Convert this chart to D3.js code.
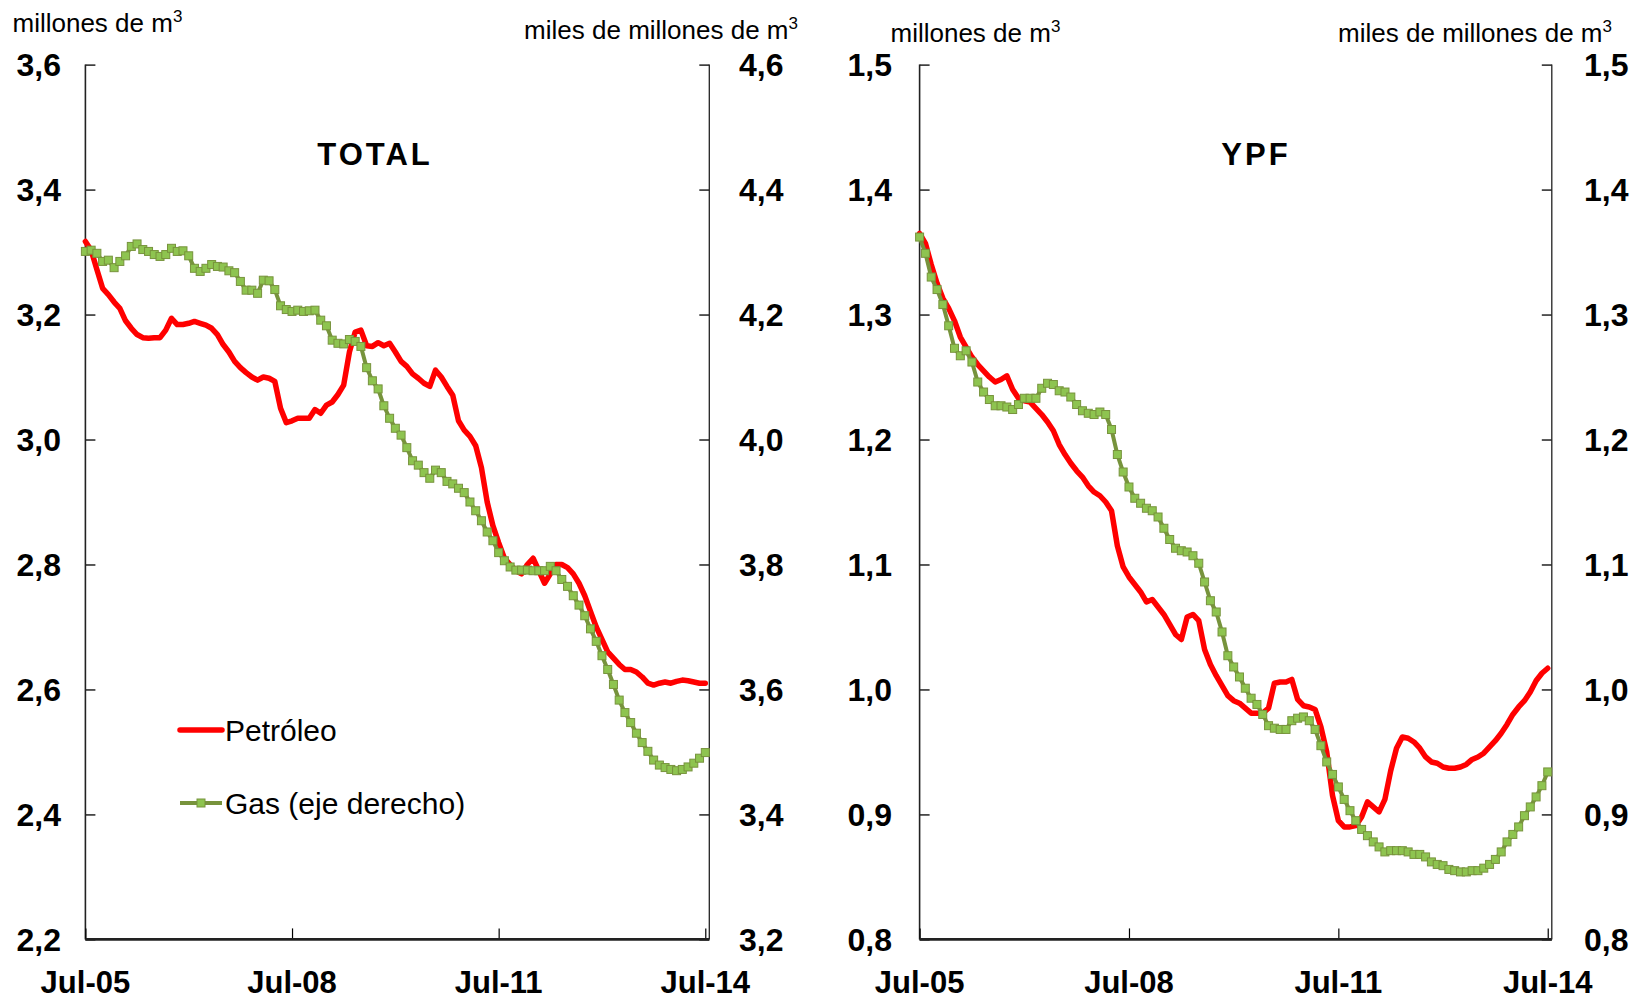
<!DOCTYPE html>
<html>
<head>
<meta charset="utf-8">
<script src="https://cdn.jsdelivr.net/npm/d3@7/dist/d3.min.js"></script>
<style>
    body { margin: 0; background: #fff; }
    svg text { font-family: "Liberation Sans", Arial, sans-serif; fill: #000; }
</style>
</head>
<body>
<svg id="chart" width="1633" height="1001"></svg>
<script>

/* datos: un valor por mes, jul-05 .. jul-14 (109 meses) */
const xTickLabels = ['Jul-05', 'Jul-08', 'Jul-11', 'Jul-14'];
const xTickMonths = [0, 36, 72, 108];

const totalPetroleo = [
    3.317, 3.303, 3.272, 3.242, 3.232, 3.220, 3.210, 3.190, 3.178, 3.168, 3.163, 3.162,
    3.163, 3.163, 3.175, 3.194, 3.184, 3.184, 3.186, 3.189, 3.186, 3.183, 3.178, 3.168,
    3.152, 3.140, 3.125, 3.115, 3.107, 3.100, 3.095, 3.100, 3.098, 3.093, 3.050, 3.027,
    3.030, 3.034, 3.034, 3.034, 3.048, 3.042, 3.055, 3.060, 3.072, 3.087, 3.140, 3.172,
    3.175, 3.150, 3.149, 3.155, 3.150, 3.154, 3.140, 3.125, 3.117, 3.105, 3.098, 3.090,
    3.085, 3.111, 3.100, 3.085, 3.071, 3.030, 3.015, 3.005, 2.990, 2.955, 2.900, 2.862,
    2.835, 2.810, 2.800, 2.790, 2.785, 2.800, 2.810, 2.790, 2.770, 2.785, 2.800, 2.800,
    2.795, 2.785, 2.770, 2.750, 2.725, 2.700, 2.680, 2.660, 2.650, 2.640, 2.632, 2.632,
    2.628, 2.620, 2.610, 2.607, 2.610, 2.612, 2.610, 2.613, 2.615, 2.614, 2.612, 2.610,
    2.610
];
const totalGas = [
    4.301, 4.303, 4.298, 4.285, 4.287, 4.275, 4.285, 4.294, 4.309, 4.313, 4.304, 4.301,
    4.296, 4.293, 4.296, 4.306, 4.301, 4.302, 4.294, 4.274, 4.269, 4.274, 4.280, 4.277,
    4.276, 4.270, 4.267, 4.253, 4.239, 4.239, 4.234, 4.255, 4.254, 4.240, 4.214, 4.208,
    4.205, 4.207, 4.205, 4.206, 4.207, 4.191, 4.182, 4.159, 4.154, 4.153, 4.160, 4.157,
    4.149, 4.115, 4.094, 4.081, 4.054, 4.034, 4.018, 4.007, 3.987, 3.966, 3.959, 3.947,
    3.938, 3.951, 3.947, 3.933, 3.929, 3.922, 3.915, 3.900, 3.886, 3.870, 3.852, 3.838,
    3.819, 3.806, 3.796, 3.791, 3.791, 3.791, 3.790, 3.790, 3.790, 3.797, 3.790, 3.776,
    3.765, 3.750, 3.735, 3.718, 3.697, 3.677, 3.654, 3.632, 3.608, 3.583, 3.563, 3.547,
    3.530, 3.515, 3.501, 3.487, 3.479, 3.475, 3.472, 3.470, 3.472, 3.476, 3.482, 3.490,
    3.499
];
const ypfPetroleo = [
    1.365, 1.357, 1.340, 1.325, 1.313, 1.305, 1.295, 1.282, 1.274, 1.266, 1.260, 1.255,
    1.250, 1.246, 1.248, 1.251, 1.240, 1.233, 1.231, 1.230, 1.225, 1.220, 1.214, 1.207,
    1.196, 1.188, 1.181, 1.175, 1.170, 1.163, 1.158, 1.155, 1.150, 1.143, 1.115, 1.098,
    1.090, 1.084, 1.078, 1.070, 1.072, 1.066, 1.060, 1.052, 1.044, 1.040, 1.058, 1.060,
    1.055, 1.032, 1.020, 1.011, 1.003, 0.995, 0.991, 0.989, 0.985, 0.981, 0.981, 0.981,
    0.985, 1.005, 1.006, 1.006, 1.008, 0.992, 0.987, 0.986, 0.984, 0.970, 0.950, 0.915,
    0.895, 0.890, 0.890, 0.891, 0.898, 0.910, 0.906, 0.902, 0.912, 0.935, 0.953, 0.962,
    0.961, 0.958, 0.953, 0.946, 0.942, 0.941, 0.938, 0.937, 0.937, 0.938, 0.940, 0.944,
    0.946, 0.949, 0.954, 0.959, 0.965, 0.972, 0.980, 0.986, 0.991, 0.998, 1.007, 1.013,
    1.017
];
const ypfGas = [
    1.362, 1.349, 1.330, 1.320, 1.308, 1.291, 1.273, 1.267, 1.271, 1.262, 1.246, 1.238,
    1.232, 1.227, 1.227, 1.226, 1.224, 1.228, 1.233, 1.233, 1.233, 1.241, 1.245, 1.244,
    1.239, 1.238, 1.234, 1.228, 1.223, 1.221, 1.220, 1.222, 1.220, 1.208, 1.188, 1.174,
    1.162, 1.153, 1.149, 1.145, 1.143, 1.138, 1.129, 1.120, 1.113, 1.111, 1.110, 1.107,
    1.101, 1.086, 1.071, 1.062, 1.046, 1.027, 1.018, 1.010, 1.001, 0.993, 0.988, 0.980,
    0.971, 0.969, 0.968, 0.968, 0.975, 0.977, 0.978, 0.975, 0.968, 0.955, 0.942, 0.932,
    0.922, 0.912, 0.903, 0.895, 0.888, 0.883, 0.878, 0.874, 0.870, 0.871, 0.871, 0.871,
    0.870, 0.868, 0.868, 0.866, 0.862, 0.860, 0.859, 0.856, 0.855, 0.854, 0.854, 0.855,
    0.855, 0.857, 0.860, 0.864, 0.870, 0.878, 0.884, 0.890, 0.899, 0.906, 0.914, 0.923,
    0.934
];

const totalLeftTicks = [2.2, 2.4, 2.6, 2.8, 3.0, 3.2, 3.4, 3.6];
const totalRightTicks = [3.2, 3.4, 3.6, 3.8, 4.0, 4.2, 4.4, 4.6];
const ypfTicks = [0.8, 0.9, 1.0, 1.1, 1.2, 1.3, 1.4, 1.5];

const COLORS = {
    oil: '#ff0000',
    gasLine: '#77933c',
    gasFill: '#8ec450',
    axis: '#000'
};
const TOP = 64.6, BOTTOM = 939.4;
const LAST_MONTH = 108.7;
const MK = 8;   // lado del marcador cuadrado

const fmt = (d) => d3.format('.1f')(d).replace('.', ',');

let svg = d3.select('#chart');

/* unidades con superindice (m3) */
function unitLabel(x, y, anchor, txt) {
    let t = svg.append('text')
        .attr('x', x).attr('y', y)
        .attr('text-anchor', anchor)
        .style('font-size', '26px');
    t.append('tspan').text(txt);
    t.append('tspan').text('3').attr('dy', -10).style('font-size', '17px');
    return t;
}

function drawPanel(p) {
    let x = d3.scaleLinear().domain([0, LAST_MONTH]).range([p.x0, p.x1]);
    let yL = d3.scaleLinear().domain([p.leftTicks[0], p.leftTicks[p.leftTicks.length - 1]]).range([BOTTOM, TOP]);
    let yR = d3.scaleLinear().domain([p.rightTicks[0], p.rightTicks[p.rightTicks.length - 1]]).range([BOTTOM, TOP]);
    let g = svg.append('g');

    // ejes verticales, ticks hacia adentro
    let leftAxis = d3.axisRight(yL).tickValues(p.leftTicks).tickSize(10).tickFormat('');
    g.append('g').attr('transform', `translate(${p.x0},0)`).call(leftAxis);
    let rightAxis = d3.axisLeft(yR).tickValues(p.rightTicks).tickSize(10).tickFormat('');
    g.append('g').attr('transform', `translate(${p.x1},0)`).call(rightAxis);
    g.selectAll('.domain').remove();
    g.selectAll('.tick line').attr('stroke', COLORS.axis).attr('stroke-width', 1.3);
    g.append('line').attr('x1', p.x0).attr('x2', p.x0).attr('y1', TOP).attr('y2', BOTTOM)
        .attr('stroke', '#222').attr('stroke-width', 1.6);
    g.append('line').attr('x1', p.x1).attr('x2', p.x1).attr('y1', TOP).attr('y2', BOTTOM)
        .attr('stroke', '#222').attr('stroke-width', 1.3);

    // eje x
    let xAxis = d3.axisTop(x).tickValues(xTickMonths).tickSize(11).tickFormat('');
    let gx = g.append('g').attr('transform', `translate(0,${BOTTOM})`).call(xAxis);
    gx.select('.domain').remove();
    gx.selectAll('.tick line').attr('stroke', COLORS.axis).attr('stroke-width', 1.2);
    g.append('line').attr('x1', p.x0).attr('x2', p.x1).attr('y1', BOTTOM).attr('y2', BOTTOM)
        .attr('stroke', '#222').attr('stroke-width', 2.6);

    // etiquetas
    g.selectAll('.ylab-l').data(p.leftTicks).enter().append('text')
        .attr('x', p.leftLabelX).attr('y', d => yL(d)).attr('dy', '0.36em')
        .attr('text-anchor', 'end')
        .style('font-size', '32px').style('font-weight', 'bold')
        .text(fmt);
    g.selectAll('.ylab-r').data(p.rightTicks).enter().append('text')
        .attr('x', p.rightLabelX).attr('y', d => yR(d)).attr('dy', '0.36em')
        .attr('text-anchor', 'start')
        .style('font-size', '32px').style('font-weight', 'bold')
        .text(fmt);
    g.selectAll('.xlab').data(xTickMonths).enter().append('text')
        .attr('x', d => x(d)).attr('y', 993)
        .attr('text-anchor', 'middle')
        .style('font-size', '31px').style('font-weight', 'bold')
        .text((d, i) => xTickLabels[i]);

    g.append('text')
        .attr('x', p.titleX).attr('y', 164.5)
        .attr('text-anchor', 'middle')
        .style('font-size', '31px').style('font-weight', 'bold').style('letter-spacing', '3px')
        .text(p.title);

    // series
    let oilLine = d3.line().x((d, i) => x(i)).y(d => yL(d));
    g.append('path').datum(p.oil)
        .attr('d', oilLine)
        .attr('fill', 'none').attr('stroke', COLORS.oil)
        .attr('stroke-width', 5.5).attr('stroke-linejoin', 'round').attr('stroke-linecap', 'round');

    let gasLine = d3.line().x((d, i) => x(i)).y(d => yR(d));
    g.append('path').datum(p.gas)
        .attr('d', gasLine)
        .attr('fill', 'none').attr('stroke', COLORS.gasLine)
        .attr('stroke-width', 4).attr('stroke-linejoin', 'round');
    g.selectAll('.mk').data(p.gas).enter().append('rect')
        .attr('x', (d, i) => x(i) - MK / 2).attr('y', d => yR(d) - MK / 2)
        .attr('width', MK).attr('height', MK)
        .attr('fill', COLORS.gasFill).attr('stroke', COLORS.gasLine).attr('stroke-width', 1);
}

drawPanel({
    title: 'TOTAL', titleX: 375,
    x0: 85.4, x1: 709.3,
    leftTicks: totalLeftTicks, rightTicks: totalRightTicks,
    leftLabelX: 61, rightLabelX: 739,
    oil: totalPetroleo, gas: totalGas
});
drawPanel({
    title: 'YPF', titleX: 1256,
    x0: 919.6, x1: 1551.8,
    leftTicks: ypfTicks, rightTicks: ypfTicks,
    leftLabelX: 892, rightLabelX: 1584,
    oil: ypfPetroleo, gas: ypfGas
});

unitLabel(12.5, 32, 'start', 'millones de m');
unitLabel(798, 38.5, 'end', 'miles de millones de m');
unitLabel(890.5, 41.5, 'start', 'millones de m');
unitLabel(1612, 41.5, 'end', 'miles de millones de m');

/* leyenda */
let legend = svg.append('g');
legend.append('line').attr('x1', 180).attr('x2', 222).attr('y1', 730).attr('y2', 730)
    .attr('stroke', COLORS.oil).attr('stroke-width', 5.5).attr('stroke-linecap', 'round');
legend.append('text').attr('x', 225).attr('y', 730).attr('dy', '0.35em')
    .style('font-size', '30px').text('Petróleo');
legend.append('line').attr('x1', 180).attr('x2', 222).attr('y1', 803).attr('y2', 803)
    .attr('stroke', COLORS.gasLine).attr('stroke-width', 4);
legend.append('rect').attr('x', 201 - MK / 2).attr('y', 803 - MK / 2).attr('width', MK).attr('height', MK)
    .attr('fill', COLORS.gasFill).attr('stroke', COLORS.gasLine).attr('stroke-width', 1);
legend.append('text').attr('x', 225).attr('y', 803).attr('dy', '0.35em')
    .style('font-size', '30px').text('Gas (eje derecho)');

</script>
</body>
</html>
